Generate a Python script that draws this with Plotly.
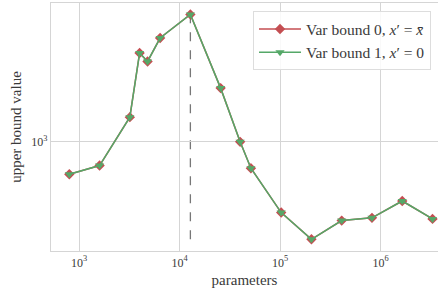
import plotly.graph_objects as go

params = [800, 1600, 3200, 4000, 4800, 6400, 12800, 25600, 40000, 51200,
          102400, 204800, 409600, 819200, 1638400, 3276800]
bound0 = [687, 759, 1324, 2767, 2512, 3289, 4315, 1849, 997, 736,
          442, 325, 403, 416, 505, 411]
bound1 = [687, 759, 1324, 2767, 2512, 3289, 4315, 1849, 997, 736,
          442, 325, 403, 416, 505, 411]
x_ticks = [1e3, 1e4, 1e5, 1e6]
x_ticktext = ["10<sup>3</sup>", "10<sup>4</sup>", "10<sup>5</sup>", "10<sup>6</sup>"]
y_ticks = [1e3]
y_ticktext = ["10<sup>3</sup>"]

FONT = "Liberation Serif"
TXT = "#3a3a3a"
GRID = "#d5d5d5"

fig = go.Figure()
fig.add_trace(go.Scatter(
    x=params, y=bound0, mode="lines+markers",
    name="Var bound 0, <i>x</i>′ = <i>x̄</i>",
    line=dict(color="#C44E52", width=1.5),
    marker=dict(symbol="diamond", size=8, color="#C44E52"),
))
fig.add_trace(go.Scatter(
    x=params, y=bound1, mode="lines+markers",
    name="Var bound 1, <i>x</i>′ = 0",
    line=dict(color="#55A868", width=1.5),
    marker=dict(symbol="triangle-down", size=8, color="#55A868"),
))

imax = bound0.index(max(bound0))
fig.add_shape(type="line", xref="x", yref="y",
              x0=params[imax], x1=params[imax],
              y0=min(bound0), y1=max(bound0),
              line=dict(color="#777777", width=1.3, dash="dash"), layer="below")

fig.update_layout(
    width=438, height=288,
    margin=dict(l=51, r=0, t=3, b=37, autoexpand=False),
    paper_bgcolor="white", plot_bgcolor="white",
    font=dict(family=FONT, color=TXT, size=13),
    showlegend=True,
    legend=dict(x=0.522, y=0.966, xanchor="left", yanchor="top",
                bgcolor="rgba(255,255,255,0.85)", bordercolor="#dddddd",
                borderwidth=1, font=dict(size=15.5, family=FONT, color=TXT),
                tracegroupgap=0, itemwidth=42),
    xaxis=dict(type="log", range=[2.721, 6.57],
               tickvals=x_ticks, ticktext=x_ticktext,
               showgrid=True, gridcolor=GRID, gridwidth=1,
               showline=True, linecolor=GRID, linewidth=1.2, mirror=True,
               ticks="", zeroline=False,
               title=dict(text="parameters", font=dict(size=15), standoff=6),
               tickfont=dict(size=12)),
    yaxis=dict(type="log", range=[2.4535, 3.692],
               tickvals=y_ticks, ticktext=y_ticktext,
               showgrid=True, gridcolor=GRID, gridwidth=1,
               showline=True, linecolor=GRID, linewidth=1.2, mirror=True,
               ticks="", zeroline=False,
               title=dict(text="upper bound value", font=dict(size=15), standoff=6),
               tickfont=dict(size=12)),
)

fig.write_html("out.html", config={"displayModeBar": False},
               post_script="document.body.style.margin='0';document.body.style.padding='0';")
